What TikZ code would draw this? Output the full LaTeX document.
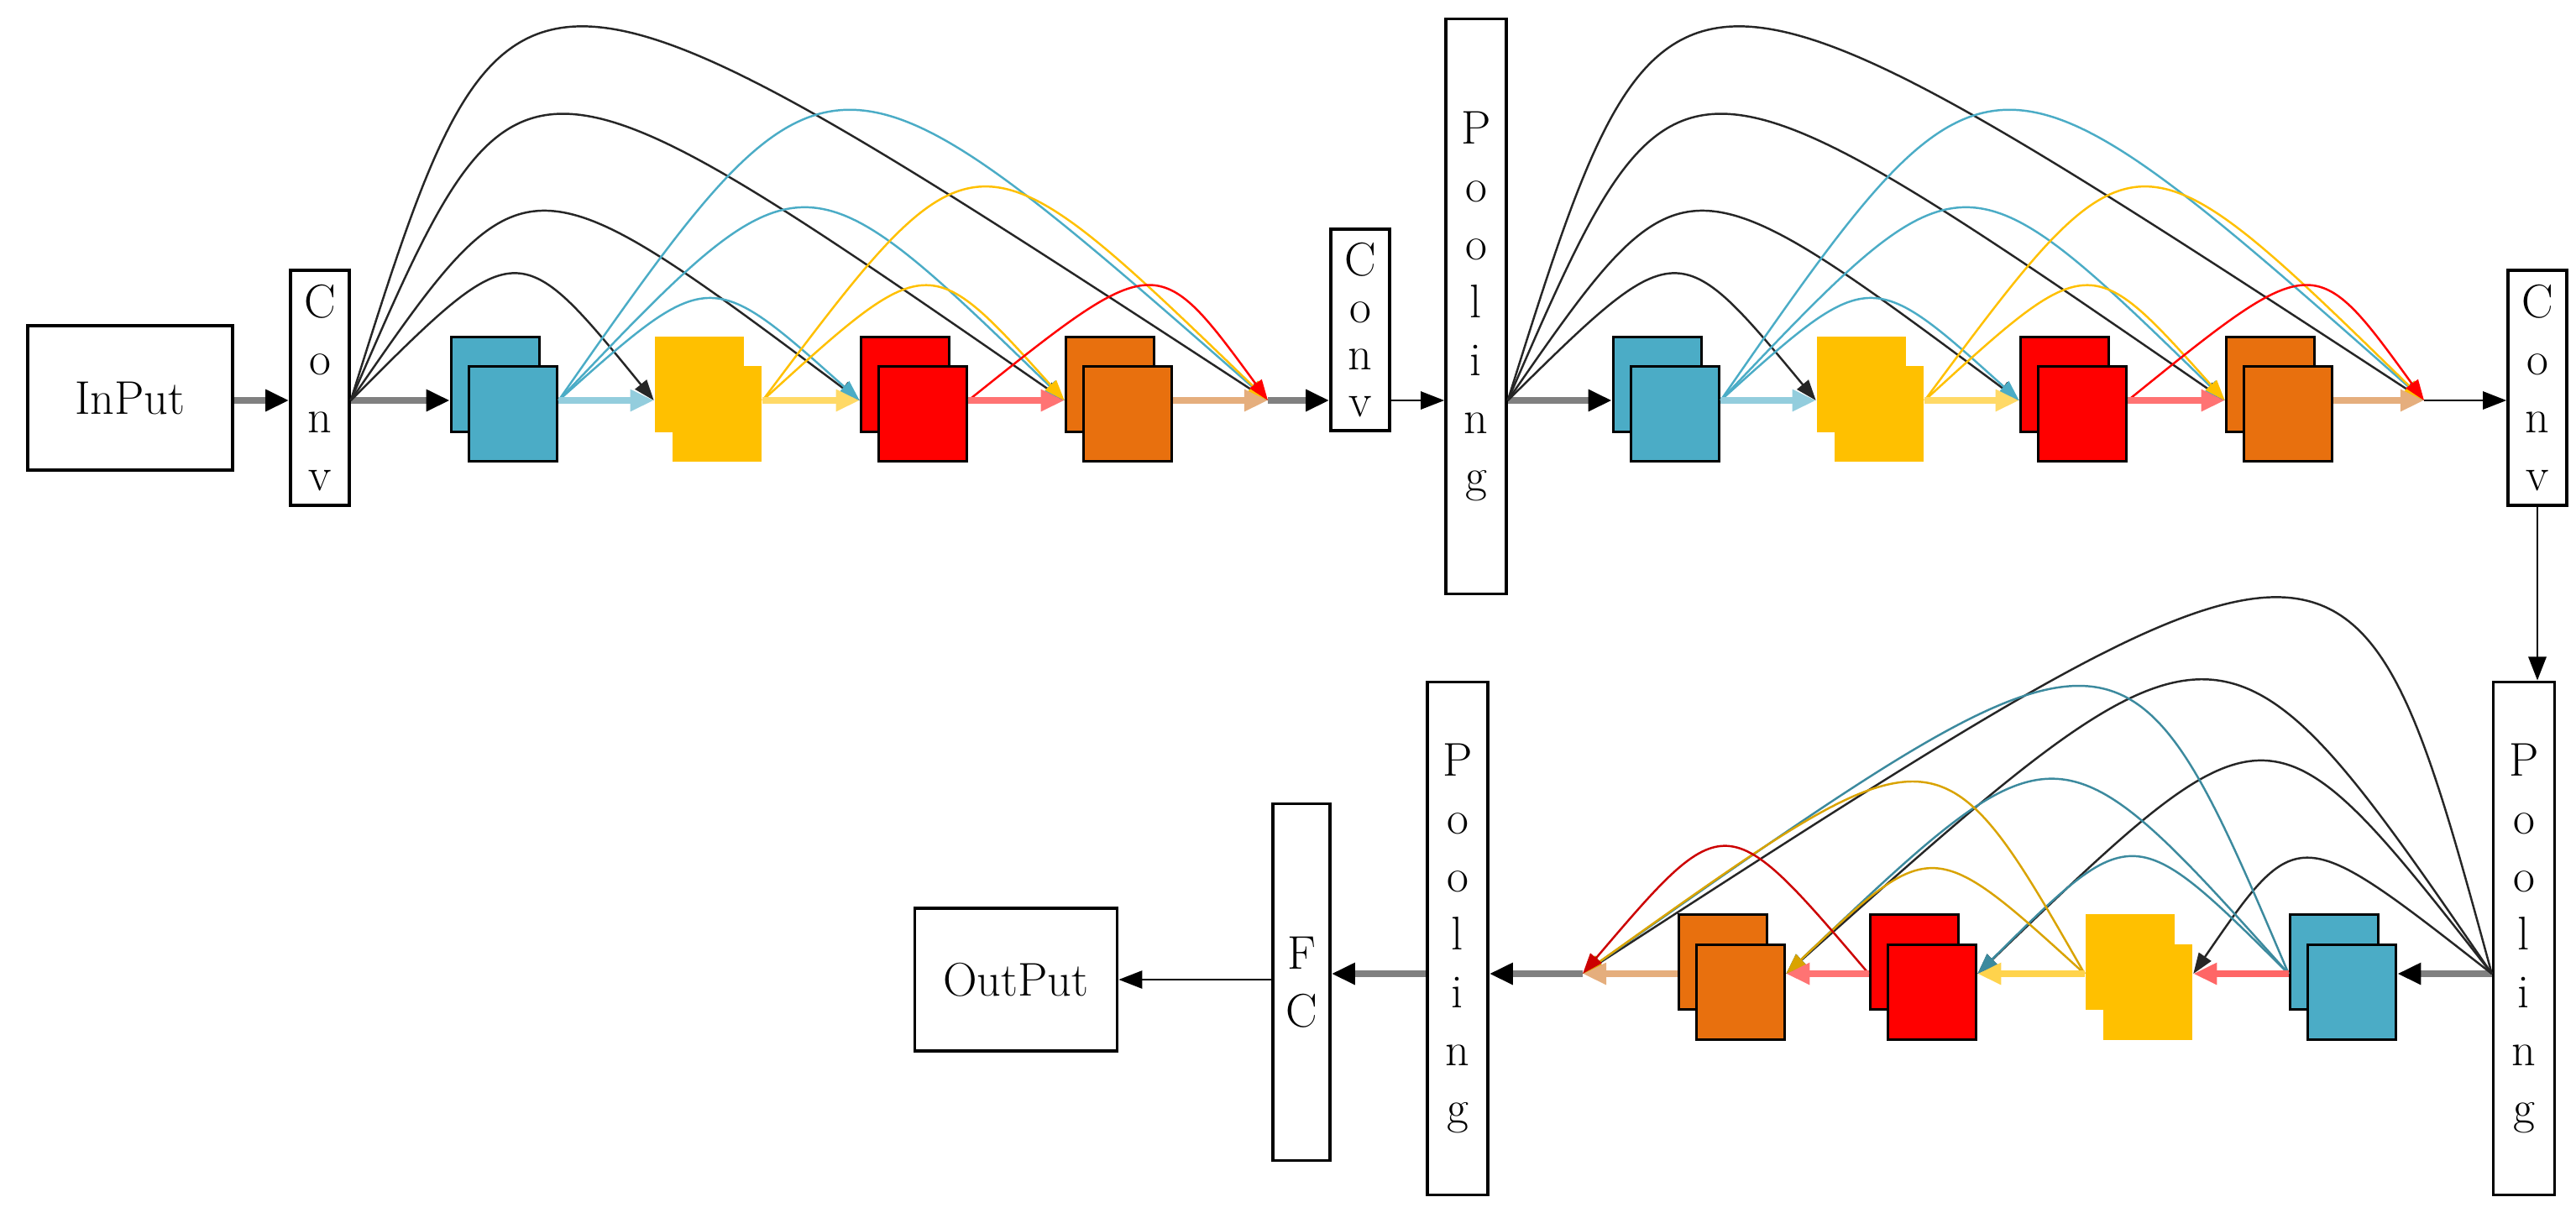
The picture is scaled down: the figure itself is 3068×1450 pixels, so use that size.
\documentclass[tikz,border=0pt]{standalone}
\usetikzlibrary{arrows.meta,calc,positioning}
\definecolor{cblue}{HTML}{4BACC6}
\definecolor{cyel}{HTML}{FFC000}
\definecolor{cred}{HTML}{FF0000}
\definecolor{cora}{HTML}{E8700E}
\tikzset{
  box/.style={draw, line width=1pt, fill=white, inner sep=0pt, align=center,
    font=\fontsize{16}{19.6}\selectfont},
  blk/.style={draw, line width=1pt, minimum width=1.05cm, minimum height=1.13cm, inner sep=0pt},
  flow/.style={draw=gray, line width=2.2pt, -{Triangle[color=black,length=8pt,width=7pt]}},
  thin/.style={draw=black, line width=0.8pt, -{Triangle[length=8pt,width=6pt]}},
  hop/.style={line width=2.4pt, -{Triangle[length=8pt,width=7pt]}},
  arc/.style={line width=0.7pt, -{Triangle[length=7pt,width=5pt]}}
}
% skip connection: style, from, to, control fraction, lift
\newcommand\skiparc[5]{\draw[arc,#1] (#2) .. controls ($(#2)!#4!(#3)+(0,-#5)$) and ($(#2)!#4!(#3)+(0,-#5)$) .. (#3);}
% pair of stacked feature maps
\newcommand\blkpair[5]{\node[blk,#2] (#1b) at (#3,#4) {}; \node[blk,#2] (#1) at (#3+21,#4+#5) {};}
\begin{document}
\begin{tikzpicture}[x=0.01cm,y=-0.01cm]
\useasboundingbox (0,0) rectangle (3068,1450);
% top row
\node[box, minimum width=2.44cm, minimum height=1.72cm] (inp) at (155,474) {InPut};
\node[box, minimum width=0.7cm, minimum height=2.8cm] (c1) at (381,462) {C\\o\\n\\v};
\node[box, minimum width=0.7cm, minimum height=2.4cm, font=\fontsize{16}{16}\selectfont] (c2) at (1620,393) {C\\o\\n\\v};
\node[box, minimum width=0.72cm, minimum height=6.85cm] (p1) at (1758,365) {P\\o\\o\\l\\i\\n\\g};
\node[box, minimum width=0.7cm, minimum height=2.8cm] (c3) at (3022,462) {C\\o\\n\\v};
\coordinate (m1) at (1510,477);
\coordinate (m2) at (2887,477);
\blkpair{blu1}{fill=cblue}{590}{458}{35}
\blkpair{yel1}{fill=cyel,draw=none}{833}{458}{35}
\blkpair{red1}{fill=cred}{1078}{458}{35}
\blkpair{ora1}{fill=cora}{1322}{458}{35}
\blkpair{blu2}{fill=cblue}{1974}{458}{35}
\blkpair{yel2}{fill=cyel,draw=none}{2217}{458}{35}
\blkpair{red2}{fill=cred}{2459}{458}{35}
\blkpair{ora2}{fill=cora}{2704}{458}{35}
\foreach \g in {1,2}{
  \coordinate (blu\g i) at (blu\g b.west |- m1);
  \coordinate (yel\g i) at (yel\g b.west |- m1);
  \coordinate (red\g i) at (red\g b.west |- m1);
  \coordinate (ora\g i) at (ora\g b.west |- m1);
  \coordinate (blu\g o) at (blu\g.east |- m1);
  \coordinate (yel\g o) at (yel\g.east |- m1);
  \coordinate (red\g o) at (red\g.east |- m1);
  \coordinate (ora\g o) at (ora\g.east |- m1);
}
\coordinate (c1o) at (c1.east |- m1);
\coordinate (p1o) at (p1.east |- m1);
\draw[flow] (inp.east |- m1) -- (c1.west |- m1);
\draw[flow] (c1o) -- (blu1i);
\draw[flow] (m1) -- (c2.west |- m1);
\draw[thin] (c2.east |- m1) -- (p1.west |- m1);
\draw[flow] (p1o) -- (blu2i);
\draw[thin] (m2) -- (c3.west |- m2);
\foreach \s/\m in {c1o/1,p1o/2}{
  \skiparc{black!85}{\s}{yel\m i}{0.55}{199}
  \skiparc{black!85}{\s}{red\m i}{0.34}{299}
  \skiparc{black!85}{\s}{ora\m i}{0.23}{453}
  \skiparc{black!85}{\s}{m\m}{0.17}{592}
  \skiparc{cblue}{blu\m o}{red\m i}{0.5}{160}
  \skiparc{cblue}{blu\m o}{ora\m i}{0.48}{304}
  \skiparc{cblue}{blu\m o}{m\m}{0.38}{459}
  \skiparc{cyel}{yel\m o}{ora\m i}{0.55}{180}
  \skiparc{cyel}{yel\m o}{m\m}{0.42}{337}
  \skiparc{cred}{red\m o}{m\m}{0.63}{180}
  \draw[hop,cblue!60] (blu\m o) -- (yel\m i);
  \draw[hop,cyel!60] (yel\m o) -- (red\m i);
  \draw[hop,cred!55] (red\m o) -- (ora\m i);
  \draw[hop,cora!50!brown!60] (ora\m o) -- (m\m);
}
% bottom row
\node[box, minimum width=0.73cm, minimum height=6.11cm] (p2) at (3006,1118) {P\\o\\o\\l\\i\\n\\g};
\node[box, minimum width=0.72cm, minimum height=6.11cm] (p3) at (1736,1118) {P\\o\\o\\l\\i\\n\\g};
\node[box, minimum width=0.68cm, minimum height=4.25cm] (fc) at (1550,1170) {F\\C};
\node[box, minimum width=2.41cm, minimum height=1.7cm] (out) at (1210,1167) {OutPut};
\coordinate (m3) at (1885,1160);
\blkpair{blu3}{fill=cblue}{2780}{1146}{36}
\blkpair{yel3}{fill=cyel,draw=none}{2537}{1146}{36}
\blkpair{red3}{fill=cred}{2280}{1146}{36}
\blkpair{ora3}{fill=cora}{2052}{1146}{36}
\coordinate (p2o) at (p2.west |- m3);
\foreach \n in {blu3,yel3,red3,ora3}{
  \coordinate (\n i) at (\n.east |- m3);
  \coordinate (\n o) at (\n b.west |- m3);
}
\draw[thin] (c3.south) -- (c3.south |- p2.north);
\draw[flow] (p2o) -- (blu3i);
\draw[flow] (m3) -- (p3.east |- m3);
\draw[flow] (p3.west |- m3) -- (fc.east |- m3);
\draw[thin] (fc.west |- out.east) -- (out.east);
\skiparc{black!85}{p2o}{yel3i}{0.65}{181}
\skiparc{black!85}{p2o}{red3i}{0.43}{336}
\skiparc{black!85}{p2o}{ora3i}{0.38}{465}
\skiparc{black!85}{p2o}{m3}{0.15}{596}
\skiparc{cblue!80!black}{blu3o}{red3i}{0.5}{184}
\skiparc{cblue!80!black}{blu3o}{ora3i}{0.46}{307}
\skiparc{cblue!80!black}{blu3o}{m3}{0.23}{455}
\skiparc{cyel!85!black}{yel3o}{ora3i}{0.51}{165}
\skiparc{cyel!85!black}{yel3o}{m3}{0.29}{303}
\skiparc{cred!80!black}{red3o}{m3}{0.5}{200}
\draw[hop,cred!60] (blu3o) -- (yel3i);
\draw[hop,cyel!70] (yel3o) -- (red3i);
\draw[hop,cred!55] (red3o) -- (ora3i);
\draw[hop,cora!50!brown!60] (ora3o) -- (m3);
\end{tikzpicture}
\end{document}
